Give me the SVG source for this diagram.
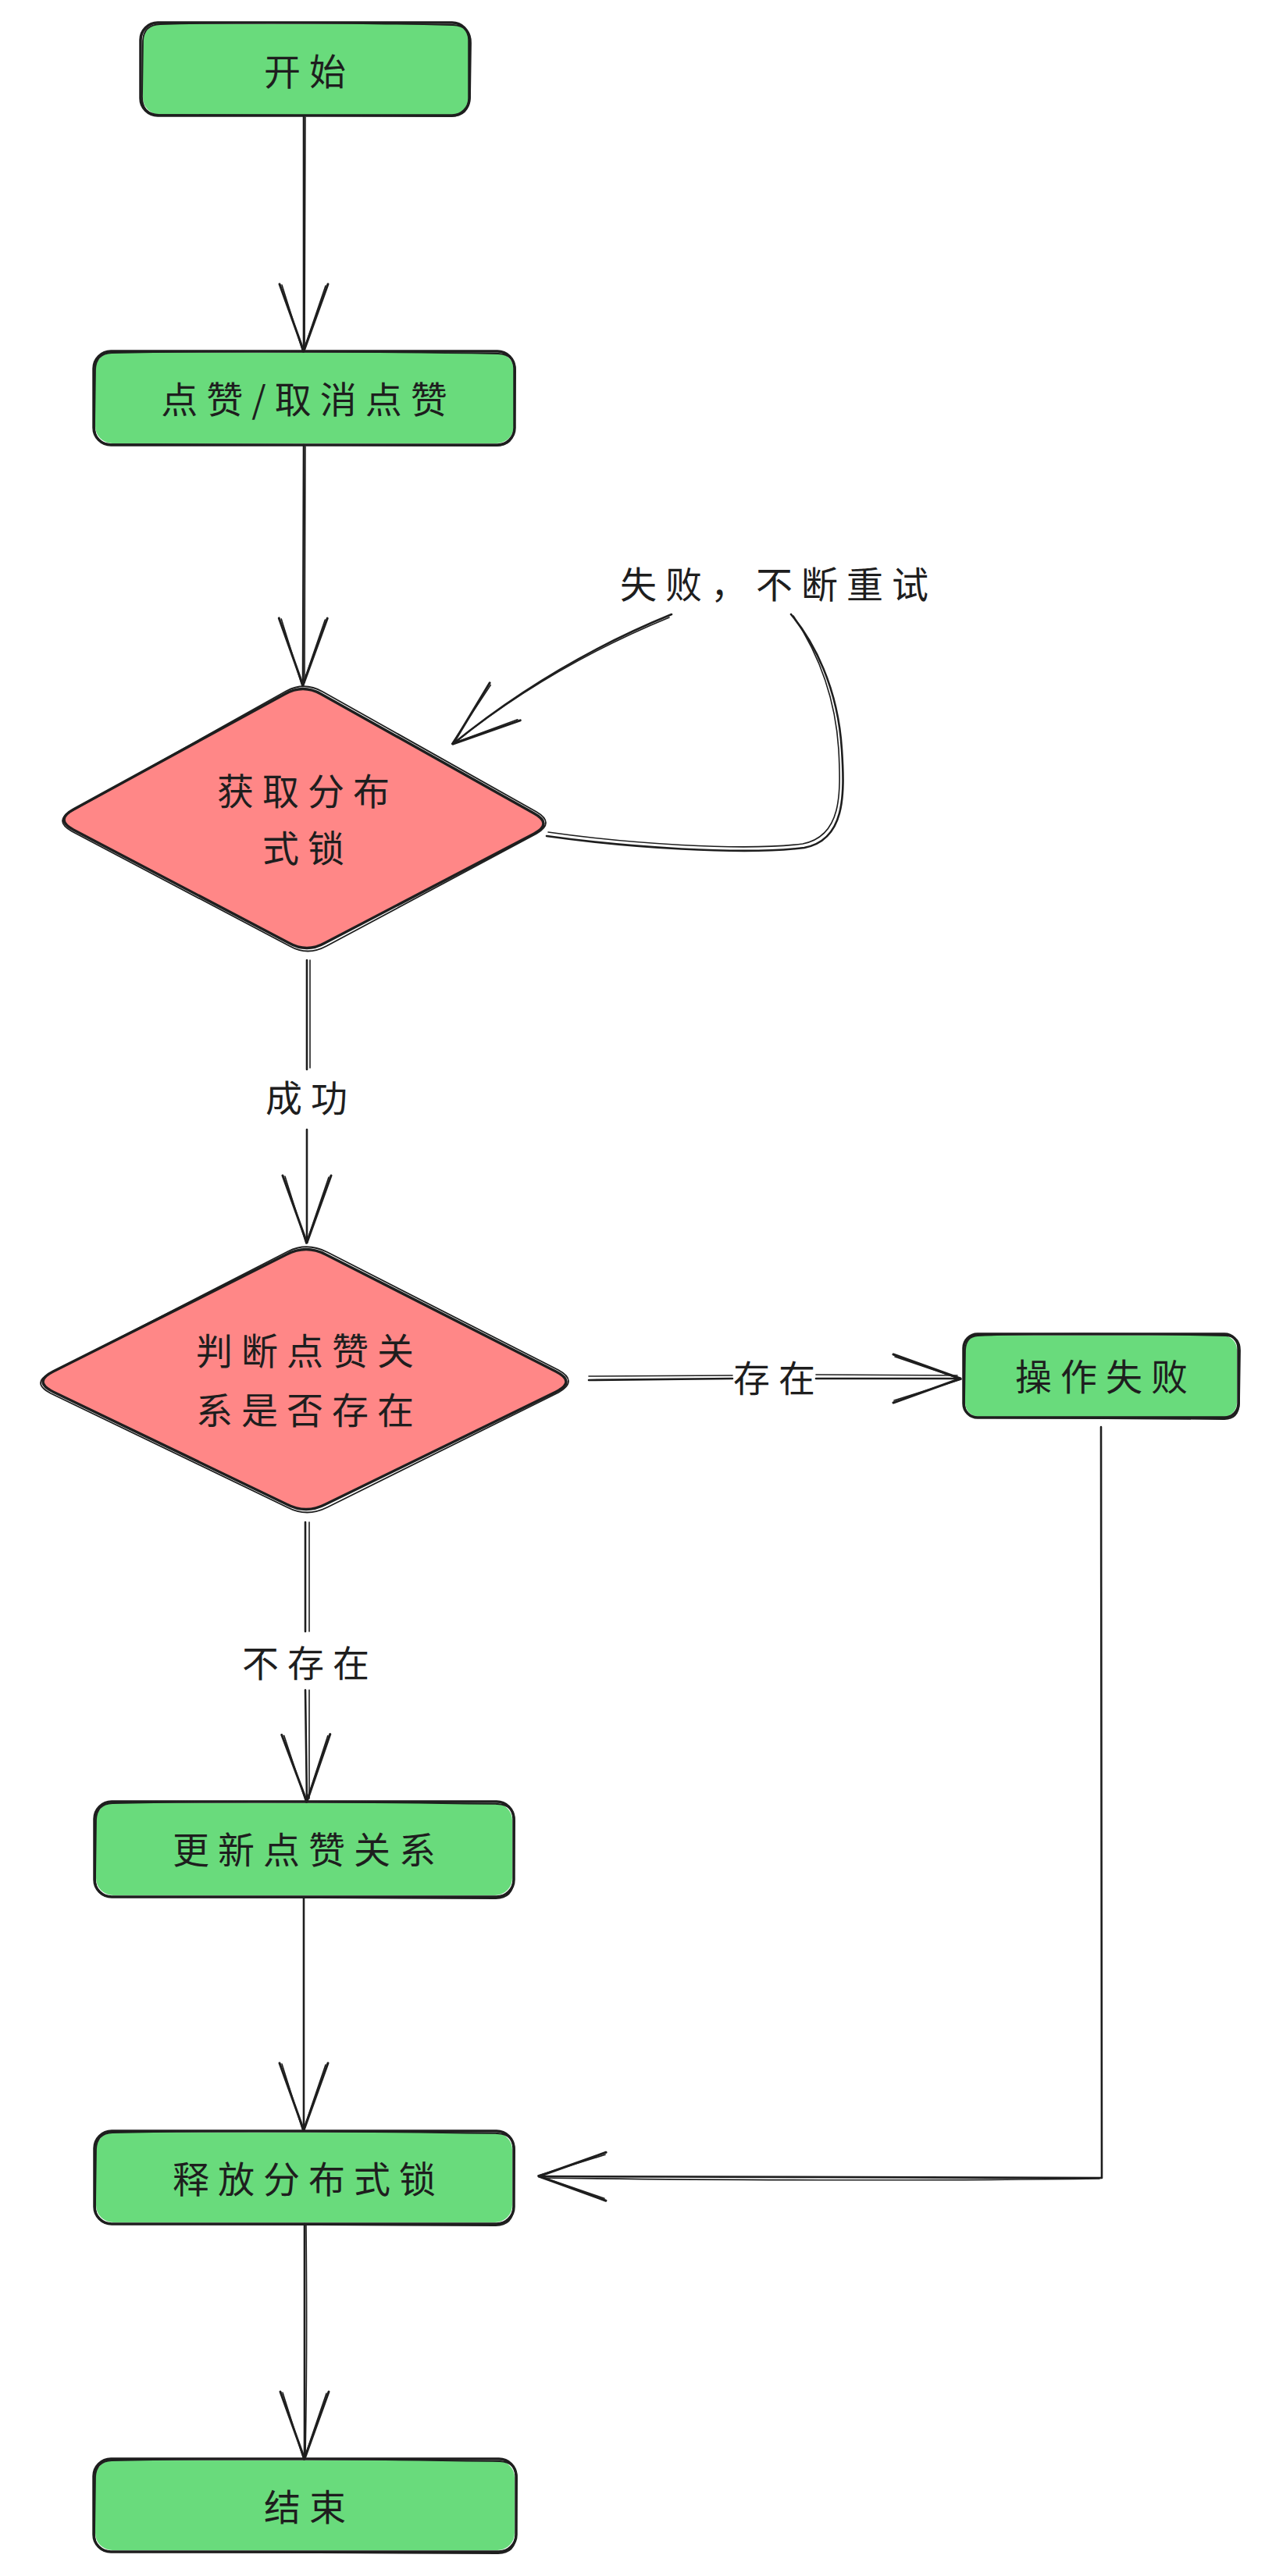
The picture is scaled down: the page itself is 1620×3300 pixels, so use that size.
<svg xmlns="http://www.w3.org/2000/svg" xmlns:xlink="http://www.w3.org/1999/xlink" width="1620" height="3300" viewBox="0 0 1620 3300">
<style>
.t{font-family:"Noto Sans CJK SC","Noto Sans",sans-serif;font-size:47px;letter-spacing:11px;fill:#1e1e1e;text-anchor:middle;dominant-baseline:central}
.g{fill:#69db7c}
.r{fill:#ff8787}
.o{fill:none;stroke:#1e1e1e;stroke-width:3.5;stroke-linejoin:round}
.o2{fill:none;stroke:#1e1e1e;stroke-width:1.8;stroke-linejoin:round}
.c{fill:none;stroke:#1e1e1e;stroke-width:2.6;stroke-linecap:round;stroke-linejoin:round}
.c2{fill:none;stroke:#1e1e1e;stroke-width:1.6;stroke-linecap:round;stroke-linejoin:round}
</style>
<defs>
<marker id="ah" viewBox="-100 -45 110 90" refX="0" refY="0" markerWidth="110" markerHeight="90" markerUnits="userSpaceOnUse" orient="auto" overflow="visible">
<path d="M -86 -31 L 0 0 L -86 31" fill="none" stroke="#1e1e1e" stroke-width="3" stroke-linecap="round" stroke-linejoin="round"/>
<path d="M -84 -28 L 1 1 L -85 28" fill="none" stroke="#1e1e1e" stroke-width="1.6" stroke-linecap="round" stroke-linejoin="round"/>
</marker>
</defs>
<rect width="1620" height="3300" fill="#ffffff"/>

<g id="connectors">
<g id="e-start-like">
<path class="c" d="M 389 148 L 389 450" marker-end="url(#ah)"/>
<path class="c2" d="M 391 150 L 390 446"/>
</g>
<g id="e-like-lock">
<path class="c" d="M 389 570 L 388 878" marker-end="url(#ah)"/>
<path class="c2" d="M 391 572 L 390 874"/>
</g>
<g id="e-lock-retry">
<path class="c" d="M 700 1071 C 800 1085 950 1096 1030 1086 C 1082 1076 1082 1020 1078 960 C 1073 880 1042 822 1013 787"/>
<path class="c2" d="M 702 1066 C 800 1080 950 1091 1028 1081 C 1078 1071 1077 1018 1074 960 C 1069 882 1040 825 1016 789"/>
<path class="c" d="M 860 787 Q 708 849 580 953" marker-end="url(#ah)"/>
<path class="c2" d="M 857 791 Q 706 853 584 950"/>
<text class="t" x="997" y="745">失败，不断重试</text>
</g>
<g id="e-lock-judge">
<path class="c" d="M 393 1230 L 393 1370"/>
<path class="c2" d="M 397 1230 L 397 1368"/>
<path class="c" d="M 393 1447 L 393 1592" marker-end="url(#ah)"/>
<text class="t" x="398" y="1403">成功</text>
</g>
<g id="e-judge-fail">
<path class="c" d="M 754 1768 L 938 1766"/>
<path class="c2" d="M 754 1763 L 938 1762"/>
<path class="c" d="M 1045 1766 L 1230 1766" marker-end="url(#ah)"/>
<path class="c2" d="M 1045 1761 L 1226 1762"/>
<text class="t" x="997" y="1762">存在</text>
</g>
<g id="e-judge-update">
<path class="c" d="M 391 1950 L 391 2090"/>
<path class="c2" d="M 396 1950 L 396 2090"/>
<path class="c" d="M 391 2165 L 393 2308" marker-end="url(#ah)"/>
<path class="c2" d="M 396 2165 L 396 2304"/>
<text class="t" x="397" y="2127">不存在</text>
</g>
<g id="e-update-release">
<path class="c" d="M 389 2431 L 389 2729" marker-end="url(#ah)"/>
</g>
<g id="e-fail-release">
<path class="c" d="M 1410 1828 L 1411 2790 L 690 2788" marker-end="url(#ah)"/>
<path class="c2" d="M 1408 2791 C 1200 2794 900 2793 694 2790"/>
</g>
<g id="e-release-end">
<path class="c" d="M 390 2849 L 390 3150" marker-end="url(#ah)"/>
<path class="c2" d="M 392 2851 C 393 2950 393 3050 391 3146"/>
</g>
</g>

<g id="n-start">
<rect class="g" x="183" y="31" width="418" height="116" rx="22"/>
<rect class="o" x="180" y="29" width="421" height="119" rx="22"/>
<path class="o2" d="M 205 31 C 330 27 480 30 580 32 Q 603 33 603 55 L 602 125 Q 600 149 578 149 L 203 147 Q 182 146 182 124 L 183 52 Q 184 32 205 31"/>
<text class="t" x="396" y="88">开始</text>
</g>

<g id="n-like">
<rect class="g" x="122" y="452" width="536" height="116" rx="22"/>
<rect class="o" x="120" y="450" width="539" height="120" rx="22"/>
<path class="o2" d="M 143 452 C 300 449 500 451 638 453 Q 660 454 660 475 L 659 547 Q 658 571 636 571 L 141 569 Q 121 568 121 546 L 122 473 Q 123 453 143 452"/>
<text class="t" x="395" y="508">点赞/取消点赞</text>
</g>

<g id="n-lock">
<path class="r" d="M 365 889 Q 388 876 411 889 L 684 1042 Q 708 1055 684 1068 L 416 1208 Q 393 1221 370 1208 L 94 1063 Q 70 1050 94 1037 Z"/>
<path class="o" d="M 365 889 Q 388 876 411 889 L 684 1042 Q 708 1055 684 1068 L 416 1208 Q 393 1221 370 1208 L 94 1063 Q 70 1050 94 1037 Z"/>
<path class="o2" d="M 367 885 Q 390 873 413 886 L 687 1040 Q 711 1054 687 1068 L 418 1212 Q 394 1225 371 1212 L 92 1065 Q 68 1051 92 1039 Z"/>
<text class="t" x="394" y="1010">获取分布</text>
<text class="t" x="394" y="1083">式锁</text>
</g>

<g id="n-judge">
<path class="r" d="M 367 1607 Q 392 1594 417 1607 L 712 1757 Q 738 1770 712 1783 L 417 1927 Q 392 1940 367 1927 L 68 1783 Q 42 1770 68 1757 Z"/>
<path class="o" d="M 367 1607 Q 392 1594 417 1607 L 712 1757 Q 738 1770 712 1783 L 417 1927 Q 392 1940 367 1927 L 68 1783 Q 42 1770 68 1757 Z"/>
<path class="o2" d="M 369 1603 Q 393 1591 419 1604 L 715 1755 Q 741 1769 715 1784 L 419 1931 Q 393 1944 368 1931 L 65 1785 Q 39 1771 65 1759 Z"/>
<text class="t" x="396" y="1727">判断点赞关</text>
<text class="t" x="396" y="1803">系是否存在</text>
</g>

<g id="n-fail">
<rect class="g" x="1236" y="1711" width="348" height="104" rx="18"/>
<rect class="o" x="1234" y="1709" width="352" height="107" rx="18"/>
<path class="o2" d="M 1252 1711 C 1350 1707 1480 1709 1570 1711 Q 1588 1712 1588 1730 L 1587 1798 Q 1586 1818 1568 1818 L 1252 1816 Q 1235 1815 1235 1797 L 1236 1729 Q 1237 1712 1252 1711"/>
<text class="t" x="1416" y="1760">操作失败</text>
</g>

<g id="n-update">
<rect class="g" x="123" y="2310" width="533" height="118" rx="22"/>
<rect class="o" x="121" y="2308" width="537" height="122" rx="22"/>
<path class="o2" d="M 144 2310 C 300 2306 500 2309 637 2311 Q 659 2312 659 2333 L 658 2408 Q 657 2432 635 2432 L 142 2430 Q 122 2429 122 2407 L 123 2331 Q 124 2311 144 2310"/>
<text class="t" x="395" y="2366">更新点赞关系</text>
</g>

<g id="n-release">
<rect class="g" x="123" y="2732" width="533" height="115" rx="22"/>
<rect class="o" x="121" y="2730" width="537" height="119" rx="22"/>
<path class="o2" d="M 144 2732 C 300 2728 500 2731 637 2733 Q 659 2734 659 2755 L 658 2827 Q 657 2851 635 2851 L 142 2849 Q 122 2848 122 2826 L 123 2753 Q 124 2733 144 2732"/>
<text class="t" x="395" y="2788">释放分布式锁</text>
</g>

<g id="n-end">
<rect class="g" x="122" y="3152" width="537" height="115" rx="22"/>
<rect class="o" x="120" y="3150" width="541" height="119" rx="22"/>
<path class="o2" d="M 143 3152 C 300 3148 500 3151 640 3153 Q 662 3154 662 3175 L 661 3247 Q 660 3271 638 3271 L 141 3269 Q 121 3268 121 3246 L 122 3173 Q 123 3153 143 3152"/>
<text class="t" x="396" y="3208">结束</text>
</g>
</svg>
